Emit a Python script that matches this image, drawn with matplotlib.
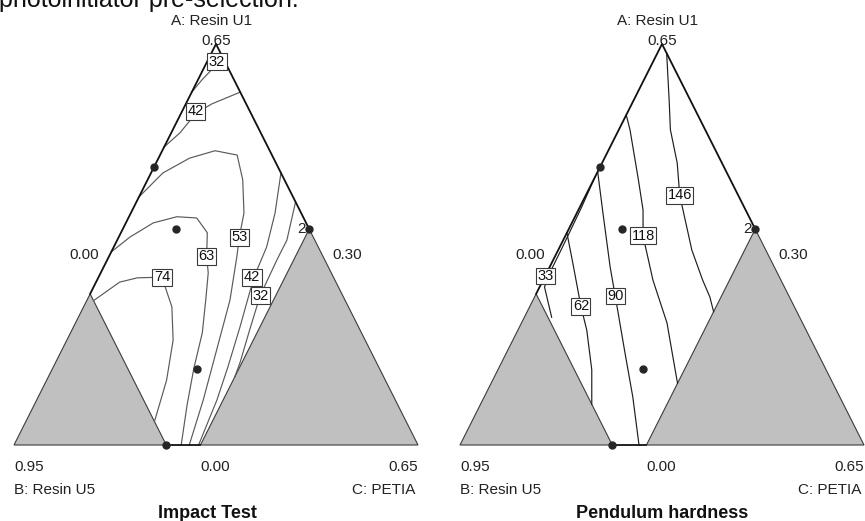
import matplotlib.pyplot as plt

plt.rcParams['font.family'] = ['Liberation Sans', 'DejaVu Sans']

# mixture A + B + C = 0.95 ; A 0-0.65, B 0.30-0.95, C 0-0.65
R = 0.65
TOTAL = 0.95
B_limit = 0.705   # B above this is outside the design space
C_limit = 0.30    # C above this is outside the design space

# design points (A, C)
design_A = [0.45, 0.35, 0.123, 0.0, 0.35]
design_C = [0.0, 0.085, 0.233, 0.245, 0.30]

imp_32a_A = [0.572, 0.592, 0.611, 0.624]
imp_32a_C = [0.0, 0.0065, 0.015, 0.026]
imp_42a_A = [0.483, 0.506, 0.538, 0.553, 0.572]
imp_42a_C = [0.0, 0.014, 0.024, 0.042, 0.078]
imp_53_A = [0.402, 0.441, 0.465, 0.477, 0.470, 0.430, 0.376, 0.337, 0.305, 0.235, 0.154, 0.073, 0.0]
imp_53_C = [0.0, 0.019, 0.050, 0.085, 0.124, 0.153, 0.182, 0.194, 0.206, 0.230, 0.249, 0.268, 0.282]
imp_63_A = [0.313, 0.337, 0.360, 0.370, 0.368, 0.344, 0.306, 0.279, 0.235, 0.182, 0.125, 0.065, 0.0]
imp_63_C = [0.0, 0.018, 0.044, 0.077, 0.110, 0.139, 0.157, 0.173, 0.191, 0.212, 0.227, 0.246, 0.269]
imp_74_A = [0.234, 0.264, 0.271, 0.272, 0.224, 0.170, 0.105, 0.038]
imp_74_C = [0.011, 0.038, 0.063, 0.102, 0.142, 0.171, 0.193, 0.207]
imp_42b_A = [0.441, 0.376, 0.321, 0.272, 0.191, 0.126, 0.073, 0.0]
imp_42b_C = [0.209, 0.232, 0.246, 0.250, 0.268, 0.281, 0.290, 0.297]
imp_32b_A = [0.394, 0.332, 0.300, 0.242, 0.186, 0.133, 0.110]
imp_32b_C = [0.256, 0.273, 0.273, 0.275, 0.286, 0.297, 0.300]

impact_lines = [(imp_32a_A, imp_32a_C), (imp_42a_A, imp_42a_C), (imp_53_A, imp_53_C),
                (imp_63_A, imp_63_C), (imp_74_A, imp_74_C), (imp_42b_A, imp_42b_C),
                (imp_32b_A, imp_32b_C)]
impact_labels = ['32', '42', '53', '63', '74', '42', '32']
impact_lab_A = [0.621, 0.541, 0.337, 0.306, 0.272, 0.272, 0.242]
impact_lab_C = [0.016, 0.022, 0.194, 0.157, 0.102, 0.247, 0.275]

# Pendulum hardness contour lines
pen_146_A = [0.635, 0.559, 0.511, 0.457, 0.405, 0.316, 0.267, 0.240, 0.216]
pen_146_C = [0.015, 0.057, 0.083, 0.121, 0.151, 0.215, 0.257, 0.282, 0.300]
pen_118_A = [0.535, 0.511, 0.430, 0.381, 0.339, 0.267, 0.198, 0.143, 0.100]
pen_118_C = [0.0, 0.018, 0.072, 0.104, 0.125, 0.177, 0.234, 0.271, 0.300]
pen_90_A = [0.443, 0.376, 0.289, 0.2415, 0.149, 0.078, 0.0]
pen_90_C = [0.0, 0.042, 0.097, 0.129, 0.191, 0.239, 0.288]
pen_62_A = [0.344, 0.295, 0.225, 0.186, 0.122, 0.066]
pen_62_C = [0.0, 0.034, 0.082, 0.111, 0.151, 0.179]
pen_33_A = [0.434, 0.384, 0.319, 0.274, 0.256, 0.207]
pen_33_C = [0.0, 0.003, 0.0045, 0.005, 0.008, 0.044]

pend_lines = [(pen_146_A, pen_146_C), (pen_118_A, pen_118_C), (pen_90_A, pen_90_C),
              (pen_62_A, pen_62_C), (pen_33_A, pen_33_C)]
pend_labels = ['146', '118', '90', '62', '33']
pend_lab_A = [0.405, 0.339, 0.2415, 0.225, 0.274]
pend_lab_C = [0.151, 0.125, 0.129, 0.082, 0.0]


def to_xy(A, C):
    a = [v / R for v in A]
    c = [v / R for v in C]
    return [ci + ai / 2 for ai, ci in zip(a, c)], a


def draw_panel(ax, lines, labels, lab_A, lab_C, line_color, title, title_x):
    ax.set_xlim(0, 1)
    ax.set_ylim(0, 1)
    ax.axis('off')

    # infeasible regions
    b_cut = TOTAL - B_limit
    x, y = to_xy([0, b_cut, 0], [0, 0, b_cut])
    ax.fill(x, y, fc='#c0c0c0', ec='#3c3c3c', lw=0.8, zorder=1, clip_on=False)
    x, y = to_xy([0, R - C_limit, 0], [C_limit, C_limit, R])
    ax.fill(x, y, fc='#c0c0c0', ec='#3c3c3c', lw=0.8, zorder=1, clip_on=False)

    # edges of the design space
    x, y = to_xy([b_cut, R, R - C_limit], [0, 0, C_limit])
    ax.plot(x, y, color='#111111', lw=1.3, zorder=3, clip_on=False)
    x, y = to_xy([0, 0], [b_cut, C_limit])
    ax.plot(x, y, color='#111111', lw=1.3, zorder=3, clip_on=False)

    for A, C in lines:
        x, y = to_xy(A, C)
        ax.plot(x, y, color=line_color, lw=0.85, zorder=2, clip_on=False)

    x, y = to_xy(lab_A, lab_C)
    for xi, yi, t in zip(x, y, labels):
        ax.text(xi, yi, t, ha='center', va='center', fontsize=10.5, color='#111111', zorder=4,
                bbox=dict(boxstyle='square,pad=0.1', fc='white', ec='#3a3a3a', lw=0.8))

    x, y = to_xy(design_A, design_C)
    ax.plot(x, y, 'o', color='#262626', ms=5, zorder=5, clip_on=False)
    ax.annotate('2', (x[4], y[4]), xytext=(-2.5, 0), textcoords='offset points',
                ha='right', va='center', fontsize=11, color='#222222', zorder=5)

    kw = dict(fontsize=11, color='#222222', va='center')
    ax.text(0.49, 1.057, 'A: Resin U1', ha='center', **kw)
    ax.text(0.50, 1.007, '0.65', ha='center', **kw)
    ax.text(0.174, 0.474, '0.00', ha='center', **kw)
    ax.text(0.824, 0.474, '0.30', ha='center', **kw)
    ax.text(0.0, -0.055, '0.95', ha='left', **kw)
    ax.text(0.497, -0.055, '0.00', ha='center', **kw)
    ax.text(1.0, -0.055, '0.65', ha='right', **kw)
    ax.text(0.0, -0.112, 'B: Resin U5', ha='left', **kw)
    ax.text(0.993, -0.112, 'C: PETIA', ha='right', **kw)
    ax.text(title_x, -0.17, title, ha='center', va='center', fontsize=13,
            fontweight='bold', color='#111111')


fig = plt.figure(figsize=(8.65, 5.21), dpi=100)
fig.text(-0.001, 1 - 7 / 521, 'photoinitiator pre-selection.', fontsize=18,
         ha='left', va='baseline', color='#111111')

ax1 = fig.add_axes([14 / 865, 76 / 521, 404 / 865, 401 / 521])
draw_panel(ax1, impact_lines, impact_labels, impact_lab_A, impact_lab_C,
           '#5a5a5a', 'Impact Test', 0.478)

ax2 = fig.add_axes([460 / 865, 76 / 521, 404 / 865, 401 / 521])
draw_panel(ax2, pend_lines, pend_labels, pend_lab_A, pend_lab_C,
           '#1e1e1e', 'Pendulum hardness', 0.5)

fig.savefig('out.png', dpi=100)
